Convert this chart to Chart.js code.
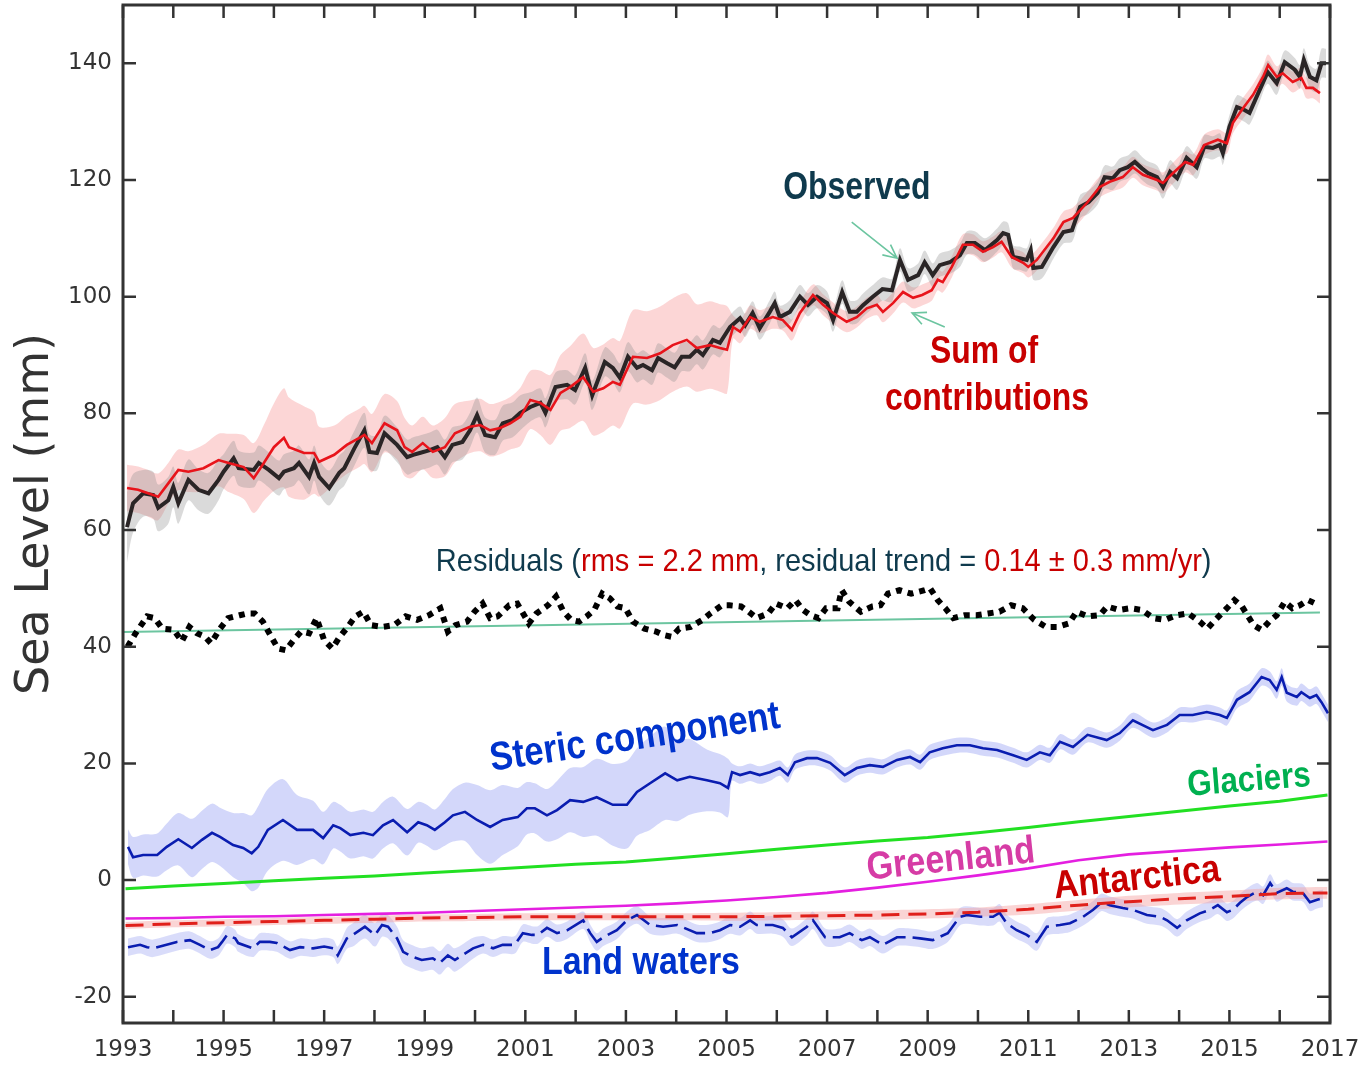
<!DOCTYPE html>
<html>
<head>
<meta charset="utf-8">
<title>Sea level budget 1993-2017</title>
<script src="https://cdn.jsdelivr.net/npm/chart.js@4.4.1/dist/chart.umd.min.js"></script>
<style>
  html, body { margin: 0; padding: 0; background: #ffffff; }
  #wrap { position: relative; width: 1358px; height: 1066px; }
</style>
</head>
<body>
<div id="wrap"><canvas id="chart"></canvas></div>
<script>
// ---------------- axis labels ----------------
const yearLabels = [1993, 1995, 1997, 1999, 2001, 2003, 2005, 2007, 2009, 2011, 2013, 2015, 2017];
const levelTicks = [-20, 0, 20, 40, 60, 80, 100, 120, 140];

// ---------------- observed GMSL (mm) ----------------
const obsYears = [
  1993.08, 1993.2, 1993.4, 1993.6, 1993.7, 1993.9,
  1994.0, 1994.1, 1994.3, 1994.5, 1994.7, 1994.9,
  1995.0, 1995.2, 1995.3, 1995.6, 1995.7, 1995.9,
  1996.1, 1996.2, 1996.4, 1996.5, 1996.7, 1996.8, 1996.9,
  1997.1, 1997.3, 1997.4, 1997.6, 1997.8, 1997.9,
  1998.05, 1998.2, 1998.45, 1998.65, 1998.77, 1998.9,
  1999.1, 1999.25, 1999.4, 1999.55, 1999.75, 1999.9,
  2000.04, 2000.2, 2000.4, 2000.55, 2000.75, 2000.9,
  2001.1, 2001.3, 2001.4, 2001.6, 2001.83, 2001.99,
  2002.19, 2002.33, 2002.58, 2002.74, 2002.88,
  2003.04, 2003.22, 2003.34, 2003.52, 2003.64, 2003.82, 2003.97,
  2004.11, 2004.27, 2004.41, 2004.53, 2004.73, 2004.87,
  2005.07, 2005.27, 2005.37, 2005.52, 2005.66, 2005.86, 2005.96,
  2006.06, 2006.26, 2006.46, 2006.62, 2006.8,
  2007.0, 2007.12, 2007.3, 2007.45, 2007.59, 2007.71, 2007.91,
  2008.1, 2008.29, 2008.45, 2008.61, 2008.81, 2008.94,
  2009.1, 2009.24, 2009.44, 2009.64, 2009.78, 2009.94,
  2010.14, 2010.38, 2010.5, 2010.6, 2010.7, 2010.83, 2010.97,
  2011.05, 2011.1, 2011.27, 2011.5, 2011.7, 2011.87,
  2012.03, 2012.2, 2012.38, 2012.52, 2012.68, 2012.82, 2012.98,
  2013.12, 2013.26, 2013.38, 2013.56, 2013.68, 2013.82, 2013.96,
  2014.15, 2014.35, 2014.5, 2014.67, 2014.81, 2014.87,
  2015.0, 2015.15, 2015.3, 2015.4, 2015.6, 2015.76, 2015.94,
  2016.1, 2016.3, 2016.4, 2016.48, 2016.6, 2016.73, 2016.83, 2016.92
];
const obsValues = [
  60.5, 64.6, 66.3, 66.0, 63.8, 65.1,
  67.4, 64.6, 68.6, 66.9, 66.3, 68.6,
  70.0, 72.3, 70.6, 70.3, 71.5, 70.3,
  68.9, 70.0, 70.6, 71.5, 69.1, 71.5, 69.1,
  67.2, 69.8, 70.6, 74.0, 77.1, 73.4,
  73.2, 76.6, 74.6, 72.5, 72.9, 73.2,
  73.7, 74.2, 72.5, 74.6, 75.1, 77.1,
  79.7, 76.3, 75.9, 78.3, 78.9, 80.1,
  81.1, 81.8, 80.1, 84.5, 84.9, 84.0,
  87.8, 83.1, 88.8, 87.8, 86.1,
  89.7, 87.8, 88.3, 87.4, 89.5, 88.6, 87.9,
  89.7, 89.7, 90.9, 90.0, 92.6, 92.1,
  94.8, 96.3, 95.1, 97.2, 94.6, 97.4, 98.9,
  96.5, 97.4, 100.0, 98.6, 100.0,
  98.9, 96.0, 100.8, 97.4, 97.4, 98.5, 100.0,
  101.3, 101.1, 106.3, 102.9, 103.7, 105.9,
  103.7, 105.4, 105.9, 107.1, 109.2, 109.2,
  108.0, 109.7, 110.9, 110.6, 106.8, 106.6, 106.3,
  108.0, 104.9, 105.1, 108.5, 111.1, 111.4,
  115.4, 116.2, 117.8, 120.5, 120.3, 121.7, 122.2,
  123.1, 122.0, 121.2, 120.5, 118.8, 121.4, 120.3,
  123.8, 122.2, 125.7, 125.5, 126.0, 124.6,
  129.1, 132.5, 132.0, 131.5, 135.4, 138.5, 136.6,
  140.2, 138.9, 137.7, 140.6, 137.7, 137.1, 140.0, 140.0
];
const obsErr = [
  6, 5, 4, 4, 4, 4,
  3.5, 3.5, 3.5, 3.5, 3.5, 3.5,
  3, 3, 3, 3, 3, 3,
  3, 3, 3, 3, 3, 3, 3,
  3, 3, 3, 3, 3, 3,
  3, 3, 3, 3, 3, 3,
  3, 3, 3, 3, 3, 3,
  3, 3, 3, 3, 3, 3,
  2.5, 2.5, 2.5, 2.5, 2.5, 2.5,
  2.5, 2.5, 2.5, 2.5, 2.5,
  2.5, 2.5, 2.5, 2.5, 2.5, 2.5, 2.5,
  2.5, 2.5, 2.5, 2.5, 2.5, 2.5,
  2, 2, 2, 2, 2, 2, 2,
  2, 2, 2, 2, 2,
  2, 2, 2, 2, 2, 2, 2,
  2, 2, 2, 2, 2, 2,
  2, 2, 2, 2, 2, 2,
  2, 2, 2, 2, 2, 2, 2,
  2, 2, 2, 2, 2, 2,
  2, 2, 2, 2, 2, 2, 2,
  2, 2, 2, 2, 2, 2, 2,
  2, 2, 2, 2, 2, 2,
  2, 2, 2, 2, 2, 2, 2,
  2, 2, 2, 2, 2, 2, 2.5, 2.5
];

// ---------------- sum of contributions (mm) ----------------
const sumYears = [
  1993.08, 1993.3, 1993.5, 1993.7, 1993.9,
  1994.1, 1994.3, 1994.6, 1994.9,
  1995.1, 1995.4, 1995.6, 1995.8,
  1996.0, 1996.2, 1996.3, 1996.6, 1996.8, 1996.9,
  1997.2, 1997.45, 1997.7, 1997.8, 1997.95,
  1998.2, 1998.45, 1998.6, 1998.75, 1998.96,
  1999.16, 1999.4, 1999.6, 1999.9,
  2000.1, 2000.3, 2000.5, 2000.7, 2000.9,
  2001.1, 2001.3, 2001.5, 2001.7, 2001.89,
  2002.15, 2002.35, 2002.55, 2002.74, 2002.88,
  2003.14, 2003.42, 2003.68, 2003.93,
  2004.21, 2004.41, 2004.67, 2004.87,
  2005.01, 2005.13, 2005.27, 2005.47, 2005.66, 2005.92,
  2006.12, 2006.3, 2006.46, 2006.72, 2006.92,
  2007.12, 2007.39, 2007.59, 2007.79, 2007.99,
  2008.11, 2008.31, 2008.51, 2008.71, 2008.89,
  2009.08, 2009.2, 2009.3, 2009.48, 2009.7, 2009.9,
  2010.1, 2010.3, 2010.47, 2010.67, 2010.9,
  2011.0, 2011.17, 2011.5, 2011.7, 2011.89,
  2012.17, 2012.42, 2012.62, 2012.88,
  2013.08, 2013.28, 2013.56, 2013.68, 2013.88,
  2014.12, 2014.28, 2014.5, 2014.77, 2014.95,
  2015.07, 2015.27, 2015.47, 2015.67, 2015.77, 2015.94,
  2016.06, 2016.26, 2016.43, 2016.53, 2016.66, 2016.8
];
const sumValues = [
  67.2, 66.9, 66.3, 65.7, 68.0,
  70.3, 70.0, 70.6, 72.0,
  71.5, 70.8, 68.9, 71.5,
  74.2, 75.8, 74.2, 73.2, 73.2, 71.7,
  72.9, 74.6, 75.8, 76.3, 74.9,
  78.3, 77.1, 74.2, 73.4, 74.9,
  73.4, 74.2, 76.6, 77.7,
  78.0, 77.1, 77.5, 78.3, 79.4,
  82.3, 81.8, 80.6, 83.5, 84.5,
  86.2, 83.7, 84.3, 85.4, 84.9,
  89.7, 89.5, 90.3, 91.7,
  92.6, 91.2, 91.7, 91.2,
  90.9, 94.8, 94.0, 96.5, 95.7, 96.5,
  96.0, 94.3, 97.2, 100.3, 98.6,
  97.2, 95.7, 96.5, 98.0, 98.6,
  97.4, 98.9, 100.8, 99.8, 100.3,
  101.1, 102.9, 102.5, 105.1, 108.9, 108.9,
  107.7, 108.5, 109.4, 106.8, 105.8,
  105.1, 106.3, 110.0, 112.8, 113.5,
  116.1, 118.8, 119.7, 120.5,
  122.2, 120.9, 120.0, 119.5, 121.2,
  123.1, 122.6, 126.0, 126.9, 126.3,
  129.8, 132.3, 134.6, 137.7, 139.7, 137.7,
  138.3, 136.8, 137.5, 135.8, 135.8, 134.9
];
const sumErr = [
  4, 4, 4, 4, 3.5,
  3.5, 3.5, 4, 4.5,
  5, 5.5, 6, 6.5,
  7.5, 8.5, 8.5, 8, 7, 6,
  5, 5, 5, 5, 5,
  5, 5, 5, 4.5, 4.5,
  4.5, 5, 5, 4.5,
  4.5, 4.5, 4.5, 4.5, 5,
  5, 5.5, 6, 6.5, 7,
  7.5, 7.5, 7.5, 7.5, 7.5,
  8, 8, 8, 8,
  8, 7.5, 7.5, 7.5,
  7.5, 2, 2, 2, 2, 2,
  1.8, 1.8, 1.8, 1.8, 1.8,
  1.8, 1.8, 1.8, 1.8, 1.8,
  1.8, 1.8, 1.8, 1.8, 1.8,
  1.8, 1.8, 1.8, 1.8, 1.8, 1.8,
  1.8, 1.8, 1.8, 1.8, 1.8,
  1.8, 1.8, 1.8, 1.8, 1.8,
  1.8, 1.8, 1.8, 1.8,
  1.8, 1.8, 1.8, 1.8, 1.8,
  1.8, 1.8, 1.8, 1.8, 1.8,
  1.8, 1.8, 1.8, 1.8, 1.8, 1.8,
  1.8, 1.8, 1.8, 1.8, 1.8, 1.8
];

// ---------------- residuals (mm, shifted) ----------------
const residYears = [
  1993.09, 1993.25, 1993.48, 1993.63, 1993.78,
  1994.01, 1994.17, 1994.32, 1994.47, 1994.63, 1994.75, 1994.93,
  1995.09, 1995.32, 1995.47, 1995.62, 1995.78, 1995.93,
  1996.08, 1996.24, 1996.39, 1996.54, 1996.7, 1996.85,
  1997.0, 1997.16, 1997.31, 1997.47, 1997.62, 1997.78, 1997.93,
  1998.16, 1998.39, 1998.62, 1998.85,
  1999.08, 1999.31, 1999.46, 1999.61, 1999.84, 1999.99,
  2000.15, 2000.3, 2000.45, 2000.68, 2000.84,
  2001.07, 2001.22, 2001.45, 2001.61, 2001.76, 2001.91,
  2002.07, 2002.22, 2002.37, 2002.53, 2002.68, 2002.83, 2002.99,
  2003.14, 2003.37, 2003.6, 2003.75, 2003.91,
  2004.06, 2004.29, 2004.52, 2004.68, 2004.91,
  2005.06, 2005.29, 2005.44, 2005.6, 2005.83, 2005.98,
  2006.21, 2006.37, 2006.52, 2006.67, 2006.83, 2006.98,
  2007.21, 2007.29, 2007.44, 2007.67, 2007.9,
  2008.06, 2008.21, 2008.44, 2008.67, 2008.94,
  2009.05, 2009.2, 2009.35, 2009.51, 2009.74, 2009.97,
  2010.2, 2010.43, 2010.66, 2010.89,
  2011.12, 2011.35, 2011.58, 2011.81, 2011.96,
  2012.19, 2012.42, 2012.57, 2012.8,
  2013.03, 2013.26, 2013.49, 2013.72, 2013.95,
  2014.18, 2014.41, 2014.56, 2014.72, 2014.95,
  2015.1, 2015.25, 2015.48, 2015.64, 2015.79, 2015.94,
  2016.1, 2016.25, 2016.4, 2016.56, 2016.71
];
const residValues = [
  40.0, 42.3, 45.2, 44.9, 43.1,
  42.9, 40.9, 43.4, 42.3, 41.7, 40.6, 43.1,
  44.9, 45.4, 45.7, 45.7, 44.3, 42.0,
  39.7, 39.4, 41.1, 42.6, 42.3, 44.9,
  41.1, 39.7, 41.7, 43.4, 45.2, 46.0, 43.7,
  43.4, 43.7, 45.2, 44.6,
  45.4, 46.6, 42.6, 43.7, 44.3, 46.0,
  47.4, 44.9, 45.2, 47.1, 47.4,
  44.0, 45.7, 47.1, 48.6, 46.0, 44.6,
  44.3, 45.2, 46.3, 49.1, 48.3, 46.9, 46.6,
  44.3, 43.1, 42.6, 42.0, 41.7,
  43.1, 43.4, 44.6, 45.7, 47.1,
  47.1, 46.9, 46.0, 44.9, 45.7, 47.4,
  46.6, 48.0, 46.3, 45.4, 44.9, 46.6,
  46.6, 49.7, 47.7, 46.0, 46.9,
  47.1, 49.1, 49.7, 49.1, 49.7,
  50.0, 48.0, 46.6, 44.9, 45.4, 45.4,
  45.7, 46.0, 47.1, 46.6,
  44.6, 43.4, 43.4, 44.0, 46.0,
  45.2, 45.4, 46.9, 46.3,
  46.6, 46.3, 44.9, 44.6, 45.4,
  45.7, 44.3, 43.1, 44.6, 46.6,
  48.0, 46.9, 43.7, 42.9, 44.3, 45.4,
  47.7, 46.6, 47.1, 48.0, 47.4
];
// linear trend of the residuals (mm/yr), drawn through its mid-period level
const residualTrendRate = 0.14;
const trendYears = [1993, 2016.8];
const trendMidYear = 2004.9;
const trendMidLevel = 44.2;

// ---------------- steric component (mm) ----------------
const stericYears = [
  1993.1, 1993.2, 1993.4, 1993.68, 1993.87,
  1994.1, 1994.37, 1994.57, 1994.77, 1994.93,
  1995.19, 1995.39, 1995.56, 1995.69, 1995.88,
  1996.18, 1996.46, 1996.78, 1996.98,
  1997.18, 1997.32, 1997.52, 1997.78, 1997.97,
  1998.17, 1998.37, 1998.65, 1998.87,
  1999.04, 1999.2, 1999.4, 1999.56, 1999.8,
  2000.04, 2000.3, 2000.55, 2000.85,
  2001.03, 2001.19, 2001.43, 2001.63, 2001.89,
  2002.15, 2002.42, 2002.74,
  2003.02, 2003.22, 2003.48, 2003.78,
  2004.02, 2004.27, 2004.61, 2004.87,
  2005.03, 2005.11, 2005.27, 2005.47, 2005.66, 2005.86,
  2006.06, 2006.22, 2006.36, 2006.6, 2006.8,
  2007.06, 2007.35, 2007.59, 2007.85,
  2008.11, 2008.39, 2008.65, 2008.85,
  2009.04, 2009.3, 2009.58, 2009.84,
  2010.1, 2010.38, 2010.7, 2010.97,
  2011.23, 2011.43, 2011.63, 2011.89,
  2012.18, 2012.56, 2012.82,
  2013.08, 2013.48, 2013.76,
  2014.01, 2014.27, 2014.55, 2014.81, 2014.95,
  2015.15, 2015.4, 2015.64, 2015.8, 2015.94,
  2016.04, 2016.14, 2016.34, 2016.43, 2016.6, 2016.73, 2016.83, 2016.96
];
const stericValues = [
  5.7, 3.9, 4.3, 4.3, 5.7,
  7.0, 5.5, 6.9, 8.1, 7.4,
  6.0, 5.5, 4.6, 5.7, 8.6,
  10.3, 8.6, 8.6, 7.2,
  9.4, 8.9, 7.7, 8.1, 7.7,
  9.4, 10.3, 8.2, 9.9,
  9.4, 8.6, 9.9, 11.1, 11.7,
  10.3, 9.1, 10.3, 10.8,
  12.3, 12.3, 11.1, 12.0, 13.7,
  13.4, 14.2, 12.9,
  12.9, 15.1, 16.6, 18.3,
  17.1, 17.7, 17.1, 16.6,
  15.8, 18.5, 18.0, 18.5, 18.0, 18.5,
  19.2, 18.0, 20.2, 20.9, 20.9,
  20.1, 18.0, 19.2, 19.7,
  19.4, 20.6, 21.1, 20.2,
  21.9, 22.6, 23.1, 23.1,
  22.6, 22.3, 21.4, 20.6,
  21.9, 21.4, 23.7, 22.8,
  24.9, 24.0, 25.2,
  27.4, 25.7, 26.6,
  28.3, 28.3, 28.8, 28.3, 27.8,
  30.9, 32.2, 34.8, 34.3, 32.6,
  34.8, 32.1, 31.4, 32.2, 31.2, 31.7, 30.5, 28.6
];
const stericErr = [
  3, 3.5, 3.5, 3.7, 4,
  4.5, 5, 5, 5, 5,
  5.5, 6, 6.5, 7, 7,
  7, 6, 5, 4.5,
  4, 4, 4, 4, 4,
  4, 4, 4, 3.5,
  3.5, 3.5, 4, 4.5, 5,
  6, 6.3, 6, 5,
  4.5, 4.3, 4.5, 5, 5.5,
  6, 6.6, 7,
  7.5, 7.5, 8, 8,
  7, 6.5, 5.3, 5,
  5, 1.5, 1.5, 1.5, 1.5, 1.5,
  1.3, 1.3, 1.3, 1.3, 1.3,
  1.3, 1.3, 1.3, 1.3,
  1.3, 1.3, 1.3, 1.3,
  1.3, 1.3, 1.3, 1.3,
  1.3, 1.3, 1.3, 1.3,
  1.3, 1.3, 1.3, 1.3,
  1.3, 1.3, 1.3,
  1.3, 1.3, 1.3,
  1.3, 1.3, 1.3, 1.3, 1.3,
  1.5, 1.5, 1.5, 1.5, 1.5,
  1.5, 1.5, 1.5, 1.5, 1.5, 1.5, 1.5, 1.5
];

// ---------------- glaciers, Greenland, Antarctica (mm) ----------------
const iceYears = [
  1993.05, 1994, 1995, 1996, 1997, 1998, 1999, 2000, 2001, 2002, 2003, 2004,
  2005, 2006, 2007, 2008, 2009, 2010, 2011, 2012, 2013, 2014, 2015, 2016, 2016.95
];
const glacierValues = [
  -1.5, -1.0, -0.6, -0.1, 0.3, 0.7, 1.2, 1.7, 2.2, 2.7, 3.1, 3.8,
  4.5, 5.3, 6.0, 6.7, 7.3, 8.1, 9.0, 10.0, 10.9, 11.8, 12.7, 13.5, 14.6
];
const greenlandValues = [
  -6.6, -6.5, -6.3, -6.2, -6.0, -5.8, -5.6, -5.3, -5.0, -4.7, -4.4, -4.0,
  -3.5, -2.9, -2.2, -1.3, -0.3, 0.8, 2.0, 3.4, 4.4, 5.0, 5.6, 6.1, 6.6
];
const antarcticaValues = [
  -7.8, -7.5, -7.3, -7.1, -6.9, -6.7, -6.5, -6.4, -6.3, -6.3, -6.3, -6.3,
  -6.3, -6.2, -6.1, -6.0, -5.8, -5.5, -5.0, -4.3, -3.7, -3.2, -2.8, -2.3, -2.2
];
const antarcticaErr = [
  0.6, 0.6, 0.6, 0.6, 0.6, 0.6, 0.6, 0.6, 0.6, 0.6, 0.6, 0.6,
  0.7, 0.7, 0.7, 0.8, 0.8, 0.8, 0.9, 0.9, 1.0, 1.0, 1.0, 1.0, 1.0
];

// ---------------- land waters (mm) ----------------
const landYears = [
  1993.1, 1993.34, 1993.48, 1993.6,
  1994.07, 1994.33, 1994.53, 1994.73, 1994.89, 1994.97,
  1995.07, 1995.23, 1995.29, 1995.58, 1995.72, 1995.92,
  1996.06, 1996.32, 1996.52, 1996.78,
  1997.0, 1997.18, 1997.27, 1997.45, 1997.57, 1997.81,
  1998.01, 1998.15, 1998.27, 1998.45, 1998.57, 1998.77, 1998.94,
  1999.16, 1999.3, 1999.46, 1999.6, 1999.96,
  2000.16, 2000.36, 2000.55, 2000.79, 2000.95,
  2001.13, 2001.25, 2001.43, 2001.63, 2001.83,
  2002.15, 2002.29, 2002.42, 2002.55, 2002.82,
  2003.02, 2003.22, 2003.48, 2003.74,
  2004.02, 2004.41, 2004.67, 2004.87,
  2005.07, 2005.27, 2005.47, 2005.6, 2005.92,
  2006.12, 2006.3, 2006.6, 2006.72, 2006.96,
  2007.25, 2007.45, 2007.69, 2007.85,
  2008.11, 2008.39, 2008.65, 2008.85,
  2009.1, 2009.4, 2009.64, 2009.78,
  2010.04, 2010.3, 2010.43, 2010.57, 2010.77, 2010.97,
  2011.17, 2011.37, 2011.63, 2011.83,
  2012.09, 2012.29, 2012.46, 2012.62, 2012.88,
  2013.08, 2013.36, 2013.62, 2013.76, 2013.96,
  2014.15, 2014.41, 2014.61, 2014.77, 2014.95,
  2015.07, 2015.21, 2015.35, 2015.55, 2015.67, 2015.81, 2015.94,
  2016.14, 2016.26, 2016.46, 2016.6, 2016.73, 2016.86
];
const landValues = [
  -11.5, -11.1, -11.5, -11.7,
  -10.6, -10.3, -11.1, -12.0, -11.5, -10.6,
  -9.4, -10.0, -10.8, -11.7, -10.6, -10.6,
  -10.8, -12.0, -11.5, -11.7,
  -11.4, -11.7, -12.9, -10.0, -9.4, -8.0,
  -9.4, -7.7, -8.0, -10.0, -12.3, -13.2, -13.7,
  -13.4, -14.2, -12.9, -13.7, -11.7,
  -11.1, -11.7, -11.1, -11.1, -9.1,
  -9.4, -9.4, -8.2, -9.1, -8.6,
  -6.9, -9.1, -10.6, -9.8, -8.6,
  -6.9, -6.0, -7.7, -8.0,
  -7.7, -9.1, -9.1, -8.6,
  -7.7, -8.0, -6.9, -7.7, -7.7,
  -8.2, -9.8, -8.0, -6.9, -9.8,
  -9.8, -9.1, -10.3, -9.8,
  -11.1, -9.8, -9.8, -10.0,
  -10.3, -9.1, -6.3, -6.0,
  -6.3, -6.3, -5.6, -7.4, -8.6, -9.4,
  -10.6, -8.0, -7.7, -7.4,
  -6.3, -5.1, -3.8, -4.3, -4.8,
  -5.1, -6.0, -6.3, -6.9, -8.2,
  -6.9, -5.7, -5.1, -4.3, -5.5,
  -5.1, -3.9, -2.9, -2.0, -2.6, -0.5, -2.2,
  -1.4, -2.0, -2.2, -3.8, -3.4, -3.1
];
const landErr = [
  1.5, 1.5, 1.5, 1.5,
  1.5, 1.5, 1.5, 1.5, 1.5, 1.5,
  1.5, 1.5, 1.5, 1.5, 1.5, 1.5,
  1.5, 1.5, 1.5, 1.5,
  1.5, 1.5, 1.5, 1.8, 2, 2,
  2, 2, 2, 2, 2, 2, 2,
  2, 2, 2, 2, 1.8,
  1.5, 1.5, 1.5, 1.5, 1.5,
  1.5, 1.5, 1.5, 1.5, 1.5,
  1.5, 1.5, 1.5, 1.5, 1.5,
  1.5, 1.5, 1.5, 1.5,
  1.5, 1.5, 1.5, 1.5,
  1.5, 1.5, 1.5, 1.5, 1.5,
  1.5, 1.5, 1.5, 1.5, 1.5,
  1.5, 1.5, 1.5, 1.5,
  1.5, 1.5, 1.5, 1.5,
  1.5, 1.5, 1.5, 1.5,
  1.5, 1.5, 1.5, 1.5, 1.5, 1.5,
  1.5, 1.5, 1.5, 1.5,
  1.5, 1.5, 1.5, 1.5, 1.5,
  1.5, 1.5, 1.5, 1.5, 1.5,
  1.5, 1.5, 1.5, 1.5, 1.5,
  1.5, 1.5, 1.5, 1.5, 1.5, 1.5, 1.5,
  1.5, 1.5, 1.5, 1.5, 1.5, 1.5
];

// ---------------- helpers ----------------
const pts = (xs, ys) => xs.map((x, i) => ({ x, y: ys[i] }));
const offsetPts = (xs, ys, es, sign) => xs.map((x, i) => ({ x, y: ys[i] + sign * es[i] }));
const trendPts = trendYears.map(x => ({ x, y: trendMidLevel + residualTrendRate * (x - trendMidYear) }));

function line(label, data, color, width, extra) {
  return Object.assign({
    label, data, borderColor: color, borderWidth: width, pointRadius: 0,
    tension: 0, fill: false, order: 1
  }, extra || {});
}
function band(label, xs, ys, es, color) {
  return [
    { label: label + ' low', data: offsetPts(xs, ys, es, -1), borderWidth: 0, borderColor: 'rgba(0,0,0,0)',
      pointRadius: 0, tension: 0.3, fill: false, order: 20 },
    { label: label + ' high', data: offsetPts(xs, ys, es, 1), borderWidth: 0, borderColor: 'rgba(0,0,0,0)',
      pointRadius: 0, tension: 0.3, fill: '-1', backgroundColor: color, order: 20 }
  ];
}

const datasets = [
  line('Sum of contributions', pts(sumYears, sumValues), '#e8141b', 2.6, { order: 0 }),
  line('Observed', pts(obsYears, obsValues), '#2a2526', 4, { order: 1 }),
  line('Residuals', pts(residYears, residValues), '#000000', 6, { borderDash: [6, 6], order: 2 }),
  line('Residual trend', trendPts, '#6cc5a0', 2, { order: 3 }),
  line('Steric component', pts(stericYears, stericValues), '#0a1db0', 2.6, { order: 2 }),
  line('Glaciers', pts(iceYears, glacierValues), '#22e022', 3, { order: 2 }),
  line('Greenland', pts(iceYears, greenlandValues), '#e41fe0', 2.6, { order: 2 }),
  line('Antarctica', pts(iceYears, antarcticaValues), '#e0201b', 3, { borderDash: [18, 9], order: 2 }),
  line('Land waters', pts(landYears, landValues), '#0a1db0', 2.6, { borderDash: [22, 7], order: 2 }),
  ...band('Observed', obsYears, obsValues, obsErr, 'rgba(140,140,140,0.32)'),
  ...band('Sum', sumYears, sumValues, sumErr, 'rgba(245,120,120,0.30)'),
  ...band('Steric', stericYears, stericValues, stericErr, 'rgba(130,140,240,0.35)'),
  ...band('Antarctica', iceYears, antarcticaValues, antarcticaErr, 'rgba(245,160,160,0.45)'),
  ...band('Land', landYears, landValues, landErr, 'rgba(130,140,240,0.30)')
];

// ---------------- frame with inward ticks ----------------
const framePlugin = {
  id: 'frame',
  afterDatasetsDraw(chart) {
    const { ctx, chartArea: a, scales: { x, y } } = chart;
    const len = 13;
    ctx.save();
    ctx.strokeStyle = '#333333';
    ctx.lineWidth = 2.5;
    ctx.beginPath();
    x.ticks.forEach(t => {
      if (!Number.isInteger(t.value)) return;
      const px = x.getPixelForValue(t.value);
      ctx.moveTo(px, a.bottom); ctx.lineTo(px, a.bottom - len);
      ctx.moveTo(px, a.top); ctx.lineTo(px, a.top + len);
    });
    levelTicks.forEach(v => {
      const py = y.getPixelForValue(v);
      ctx.moveTo(a.left, py); ctx.lineTo(a.left + len, py);
      ctx.moveTo(a.right, py); ctx.lineTo(a.right - len, py);
    });
    ctx.stroke();
    ctx.lineWidth = 3;
    ctx.strokeRect(a.left, a.top, a.right - a.left, a.bottom - a.top);
    ctx.restore();
  }
};

// ---------------- series names, residual statistics and arrows ----------------
const FONT = '"Liberation Sans", Arial, "DejaVu Sans", sans-serif';
function drawLabel(ctx, parts, px, py, o) {
  ctx.save();
  ctx.translate(px, py);
  ctx.rotate((o.angle || 0) * Math.PI / 180);
  ctx.scale(o.sx || 1, 1);
  ctx.font = (o.weight || 'bold') + ' ' + o.size + 'px ' + FONT;
  ctx.textBaseline = 'middle';
  ctx.textAlign = 'left';
  const total = parts.reduce((s, p) => s + ctx.measureText(p[0]).width, 0);
  let cur = o.align === 'left' ? 0 : -total / 2;
  parts.forEach(p => {
    ctx.fillStyle = p[1];
    ctx.fillText(p[0], cur, 0);
    cur += ctx.measureText(p[0]).width;
  });
  ctx.restore();
}
function drawArrow(ctx, x1, y1, x2, y2, color) {
  const ang = Math.atan2(y2 - y1, x2 - x1);
  const head = 15, spread = 0.45;
  ctx.save();
  ctx.strokeStyle = color;
  ctx.lineWidth = 1.6;
  ctx.beginPath();
  ctx.moveTo(x1, y1); ctx.lineTo(x2, y2);
  ctx.moveTo(x2 - head * Math.cos(ang - spread), y2 - head * Math.sin(ang - spread));
  ctx.lineTo(x2, y2);
  ctx.lineTo(x2 - head * Math.cos(ang + spread), y2 - head * Math.sin(ang + spread));
  ctx.stroke();
  ctx.restore();
}

const DARK = '#0f3a4d', RED = '#c80000', BLUE = '#0033cc';
const textPlugin = {
  id: 'seriesText',
  afterDraw(chart) {
    const { ctx, scales: { x, y } } = chart;
    const X = v => x.getPixelForValue(v), Y = v => y.getPixelForValue(v);
    drawLabel(ctx, [['Observed', DARK]], X(2007.59), Y(118.6), { size: 38, sx: 0.84 });
    drawLabel(ctx, [['Sum of', RED]], X(2010.12), Y(90.5), { size: 38, sx: 0.84 });
    drawLabel(ctx, [['contributions', RED]], X(2010.18), Y(82.3), { size: 38, sx: 0.84 });
    drawLabel(ctx, [
      ['Residuals (', DARK], ['rms = 2.2 mm', RED], [', residual trend = ', DARK],
      ['0.14 \u00b1 0.3 mm/yr', RED], [')', DARK]
    ], X(1999.22), Y(54.5), { size: 32, sx: 0.907, weight: 'normal', align: 'left' });
    drawLabel(ctx, [['Steric component', BLUE]], X(2003.18), Y(24.3), { size: 40, sx: 0.867, angle: -8.5 });
    drawLabel(ctx, [['Glaciers', '#00b050']], X(2015.39), Y(17.0), { size: 36, sx: 0.87, angle: -4.5 });
    drawLabel(ctx, [['Greenland', '#d63ca5']], X(2009.46), Y(3.4), { size: 39, sx: 0.876, angle: -6 });
    drawLabel(ctx, [['Antarctica', RED]], X(2013.16), Y(0.2), { size: 39, sx: 0.876, angle: -6 });
    drawLabel(ctx, [['Land waters', BLUE]], X(2003.3), Y(-14.2), { size: 39, sx: 0.87 });
    drawArrow(ctx, X(2007.49), Y(112.8), X(2008.39), Y(106.6), '#6cc5a0');
    drawArrow(ctx, X(2009.34), Y(94.8), X(2008.69), Y(97.2), '#6cc5a0');
  }
};

new Chart(document.getElementById('chart'), {
  type: 'line',
  data: { datasets },
  plugins: [framePlugin, textPlugin],
  options: {
    responsive: true,
    maintainAspectRatio: false,
    animation: false,
    events: [],
    layout: { padding: { top: 5, right: 28, left: 0, bottom: 0 } },
    plugins: { legend: { display: false }, tooltip: { enabled: false } },
    scales: {
      x: {
        type: 'linear', min: 1993, max: 2017,
        grid: { display: false, drawTicks: false },
        border: { display: false },
        afterFit(s) { s.height = 43; s.paddingLeft = 0; s.paddingRight = 0; },
        ticks: {
          stepSize: 1, autoSkip: false, maxRotation: 0, padding: 13,
          color: '#333333', font: { family: 'DejaVu Sans', size: 23 },
          callback: v => (yearLabels.includes(v) ? String(v) : '')
        }
      },
      y: {
        type: 'linear', min: -24.5, max: 150,
        grid: { display: false, drawTicks: false },
        border: { display: false },
        afterFit(s) { s.width = 123; s.paddingTop = 0; s.paddingBottom = 0; },
        title: {
          display: true, text: 'Sea Level (mm)', color: '#333333',
          font: { family: 'DejaVu Sans', size: 46 }, padding: { top: 8, bottom: 0 }
        },
        ticks: {
          stepSize: 20, includeBounds: false, padding: 11,
          color: '#333333', font: { family: 'DejaVu Sans', size: 23 },
          callback: v => (levelTicks.includes(v) ? String(v) : '')
        }
      }
    }
  }
});
</script>
</body>
</html>
